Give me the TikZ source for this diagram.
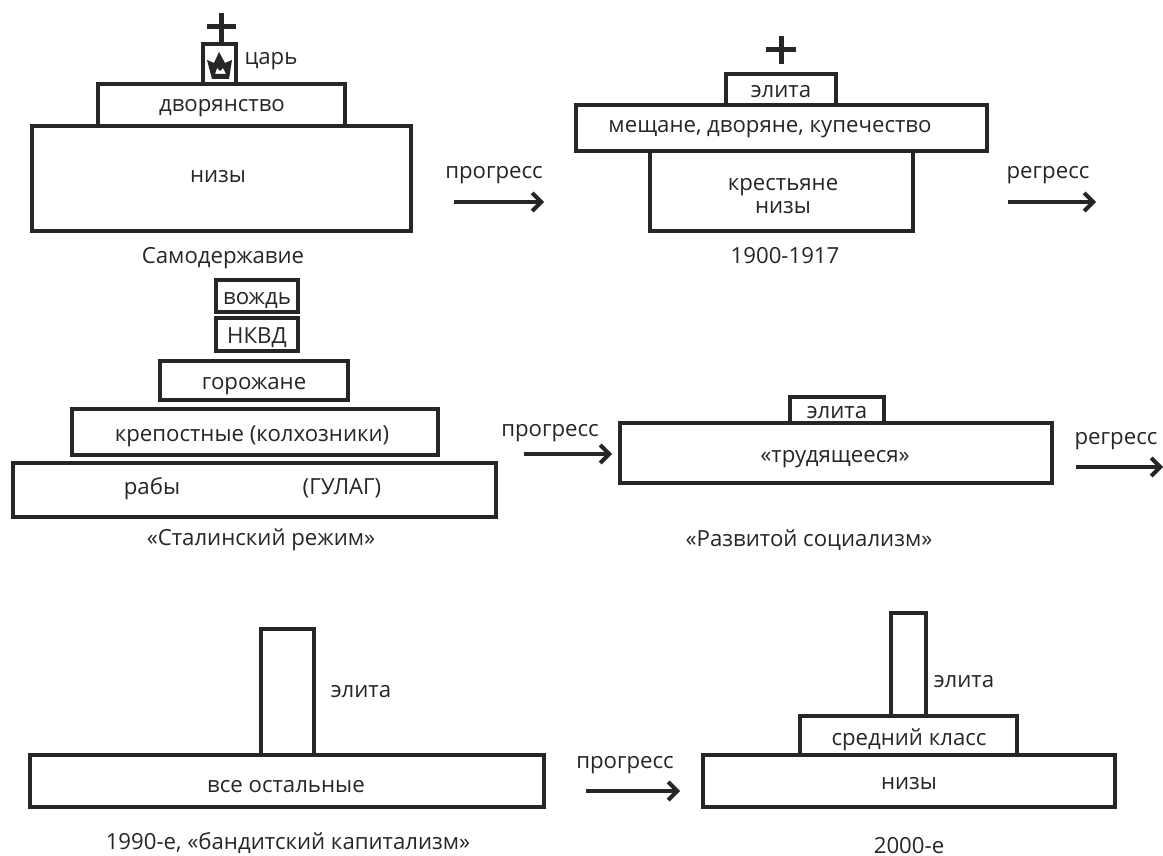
\documentclass[tikz,border=0pt]{standalone}
\usepackage{fontspec}
\setmainfont{Open Sans}
\usetikzlibrary{arrows.meta}
\definecolor{ink}{HTML}{262626}
\tikzset{
  x=1pt,y=-1pt,
  cls/.style={draw=ink,line width=4pt,fill=white,inner sep=0pt},
  lab/.style={text=ink,font=\fontsize{22.2}{24}\selectfont,inner sep=0pt,anchor=center,text height=15pt,text depth=5pt,yshift=-3pt},
  arr/.style={draw=ink,line width=4pt,-{Straight Barb[length=9pt,width=18pt,line width=4pt]}},
  cross/.style={draw=ink,line width=5pt}
}
\newcommand{\bx}[5]{\node[cls,minimum width=#4-#2,minimum height=#5-#3] (#1) at ({(#2+#4)/2},{(#3+#5)/2}) {};}
\begin{document}
\begin{tikzpicture}
\useasboundingbox (0,0) rectangle (1163,856);
% Autocracy
\bx{b1c}{32}{126}{411}{231}
\bx{b1b}{98}{84}{345}{126}
\bx{b1a}{203}{44}{236}{84}
\node[lab] (t1a) at (271,57) {царь};
\node[lab] (t1b) at (222,104) {дворянство};
\node[lab] (t1c) at (218,175) {низы};
\node[lab] (t1d) at (223,255) {Самодержавие};
\coordinate (p1t) at (221,13);\coordinate (p1b) at (221,42);\coordinate (p1l) at (207,27);\coordinate (p1r) at (236,27);
\draw[cross] (p1t)--(p1b) (p1l)--(p1r);
\fill[ink,even odd rule] (207,60) -- (214,63) -- (219,52) -- (225,63) -- (232,60) -- (229,79) -- (212,79) -- cycle
  (215,74) -- (217,68) -- (220,71) -- (223,68) -- (226,74) -- cycle;
% 1900-1917
\bx{b2c}{650}{151}{913}{231}
\bx{b2b}{576}{105}{987}{151}
\bx{b2a}{726}{74}{836}{105}
\node[lab] (t2a) at (781,90) {элита};
\node[lab] (t2b) at (770,125) {мещане, дворяне, купечество};
\node[lab] (t2c) at (783,182) {крестьяне};
\node[lab] (t2d) at (783,206) {низы};
\node[lab] (t2e) at (785,255) {1900-1917};
\coordinate (p2t) at (781,36);\coordinate (p2b) at (781,64);\coordinate (p2l) at (766,50);\coordinate (p2r) at (796,50);
\draw[cross] (p2t)--(p2b) (p2l)--(p2r);
% Stalin
\bx{b3a}{216}{280}{298}{312}
\bx{b3b}{216}{318}{298}{351}
\bx{b3c}{160}{361}{348}{400}
\bx{b3d}{72}{409}{438}{455}
\bx{b3e}{13}{463}{496}{517}
\node[lab] (t3a) at (257,296) {вождь};
\node[lab] (t3b) at (257,335) {НКВД};
\node[lab] (t3c) at (254,381) {горожане};
\node[lab] (t3d) at (252,433) {крепостные (колхозники)};
\node[lab] (t3e) at (152,486) {рабы};
\node[lab] (t3f) at (342,486) {(ГУЛАГ)};
\node[lab] (t3g) at (261,537) {«Сталинский режим»};
% Developed socialism
\bx{b4b}{620}{423}{1052}{483}
\bx{b4a}{790}{397}{884}{423}
\node[lab] (t4a) at (837,410) {элита};
\node[lab] (t4b) at (835,454) {«трудящееся»};
\node[lab] (t4c) at (809,538) {«Развитой социализм»};
% 1990s
\bx{b5b}{30}{755}{544}{807}
\bx{b5a}{261}{629}{314}{755}
\node[lab] (t5a) at (361,689) {элита};
\node[lab] (t5b) at (286,784) {все остальные};
\node[lab] (t5c) at (288,841) {1990-е, «бандитский капитализм»};
% 2000s
\bx{b6c}{703}{755}{1115}{807}
\bx{b6b}{800}{716}{1017}{755}
\bx{b6a}{891}{613}{926}{716}
\node[lab] (t6a) at (964,679) {элита};
\node[lab] (t6b) at (909,737) {средний класс};
\node[lab] (t6c) at (909,781) {низы};
\node[lab] (t6d) at (909,845) {2000-е};
% arrows
\node[lab] (l1) at (494,171) {прогресс};
\node[lab] (l2) at (1048,171) {регресс};
\node[lab] (l3) at (550,428) {прогресс};
\node[lab] (l4) at (1116,436) {регресс};
\node[lab] (l5) at (625,760) {прогресс};
\coordinate (a1s) at (454,202);\coordinate (a1e) at (544,202);
\coordinate (a2s) at (1008,202);\coordinate (a2e) at (1096,202);
\coordinate (a3s) at (524,454);\coordinate (a3e) at (612,454);
\coordinate (a4s) at (1076,467);\coordinate (a4e) at (1163,467);
\coordinate (a5s) at (586,791);\coordinate (a5e) at (680,791);
\draw[arr] (a1s)--(a1e);
\draw[arr] (a2s)--(a2e);
\draw[arr] (a3s)--(a3e);
\draw[arr] (a4s)--(a4e);
\draw[arr] (a5s)--(a5e);
\end{tikzpicture}
\end{document}
